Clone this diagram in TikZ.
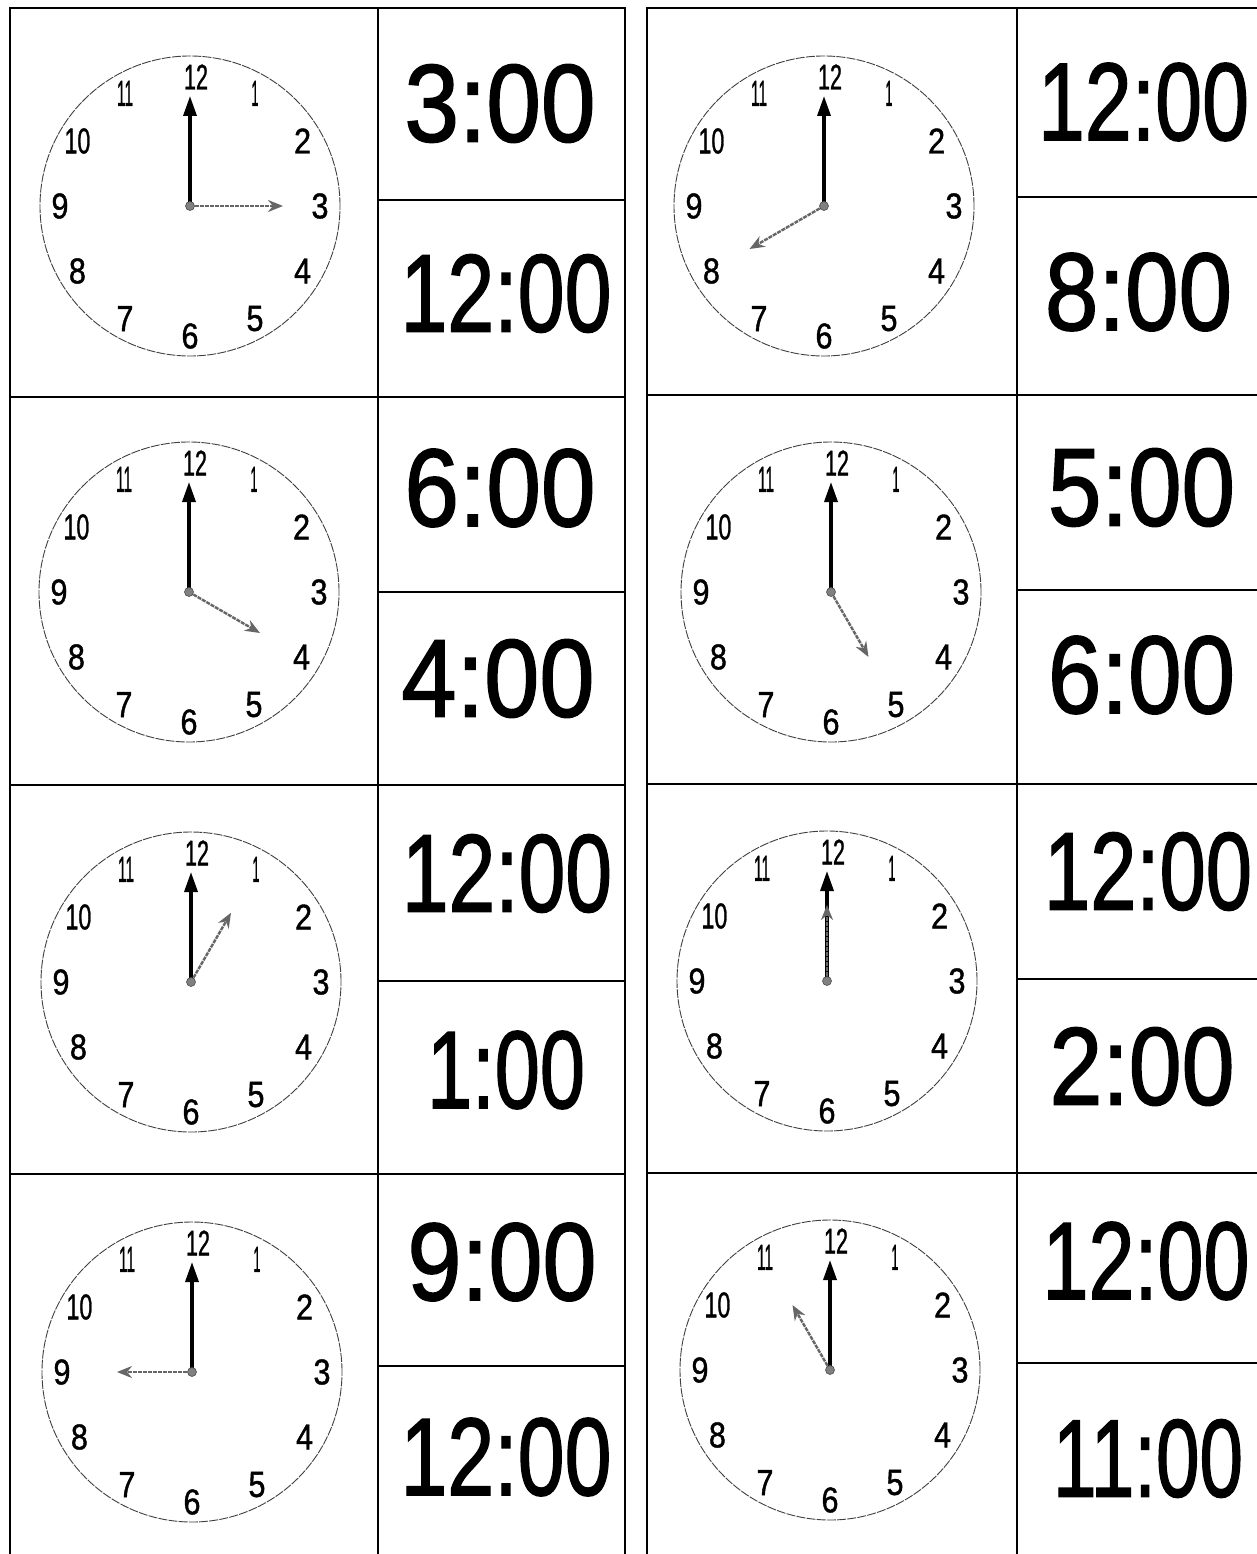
\documentclass[tikz,border=0pt]{standalone}
\usepackage{fontspec}
\setmainfont{Liberation Sans}
\newfontfamily\timefont{Liberation Sans}[FakeBold=1.5]
\newfontfamily\numfont{Liberation Sans}[FakeBold=1.2]
\usepackage{graphicx}
\usetikzlibrary{arrows.meta}

\newcommand{\cnum}[2]{\resizebox{#1pt}{25pt}{\numfont #2}}
\newcommand{\bigtime}[2]{\resizebox{#1pt}{77pt}{\timefont #2}}

\tikzset{
  grid/.style={line width=2.6pt, line cap=rect},
  face/.style={draw=black!75, line width=0.9pt, dash pattern=on 9pt off 1.2pt},
  numlbl/.style={inner sep=0pt, anchor=center},
  timelbl/.style={inner sep=0pt, anchor=center},
  minhand/.style={line width=3.4pt, -{Triangle[length=20pt,width=13pt]}},
  hourhand/.style={draw=black!60, line width=2.4pt, dash pattern=on 4pt off 1pt,
    -{Stealth[length=15pt,width=12pt,fill=black!60]}},
  hub/.style={circle, fill=black!50, draw=black!70, line width=0.6pt, inner sep=0pt, minimum size=9pt}
}

% #1 name, #2 cx, #3 cy, #4 hour, #5 hour-hand length
\newcommand{\drawclock}[5]{%
  \begin{scope}[shift={(#2,#3)}]
    \node[circle, face, minimum size=300pt, inner sep=0pt] (#1face) at (0,0) {};
    \coordinate (#1c) at (0,0);
    \coordinate (#1m) at (0,-110);
    \coordinate (#1h) at ({30*#4-90}:#5);
    \foreach \k/\w in {1/7,2/17,3/17,4/17,5/17,6/17,7/17,8/17,9/17,10/26,11/16}{
      \node[numlbl] (#1n\k) at ({30*\k-90}:130) {\cnum{\w}{\k}};
    }
    \node[numlbl] (#1n12) at (6,-129) {\cnum{24}{12}};
    \draw[minhand] (#1c) -- (#1m);
    \draw[hourhand] (#1c) -- (#1h);
    \node[hub] (#1hub) at (#1c) {};
  \end{scope}%
}

\begin{document}
\begin{tikzpicture}[x=1pt, y=-1pt]
  \useasboundingbox[fill=white] (0,0) rectangle (1257,1554);

  % ---------- left panel grid ----------
  \coordinate (LtopL) at (10,8);
  \coordinate (LbotL) at (10,1554);
  \coordinate (LtopM) at (378,8);
  \coordinate (LbotM) at (378,1554);
  \coordinate (LtopR) at (625,8);
  \coordinate (LbotR) at (625,1554);
  \draw[grid] (LtopL) -- (LbotL);
  \draw[grid] (LtopM) -- (LbotM);
  \draw[grid] (LtopR) -- (LbotR);
  \foreach \y in {8,397,785,1174}{
    \draw[grid] (10,\y) -- (625,\y);
  }
  \foreach \y in {200,592,981,1366}{
    \draw[grid] (378,\y) -- (625,\y);
  }

  % ---------- right panel grid ----------
  \coordinate (RtopL) at (647,8);
  \coordinate (RbotL) at (647,1554);
  \coordinate (RtopM) at (1017,8);
  \coordinate (RbotM) at (1017,1554);
  \draw[grid] (RtopL) -- (RbotL);
  \draw[grid] (RtopM) -- (RbotM);
  \foreach \y in {8,395,784,1173}{
    \draw[grid] (647,\y) -- (1257,\y);
  }
  \foreach \y in {197,590,979,1363}{
    \draw[grid] (1017,\y) -- (1257,\y);
  }

  % ---------- clocks ----------
  \drawclock{L1}{190}{206}{3}{93}
  \drawclock{L2}{189}{592}{4}{82}
  \drawclock{L3}{191}{982}{1}{80}
  \drawclock{L4}{192}{1372}{9}{75}
  \drawclock{R1}{824}{206}{8}{86}
  \drawclock{R2}{831}{592}{5}{75}
  \drawclock{R3}{827}{981}{12}{76}
  \drawclock{R4}{830}{1370}{11}{75}

  % ---------- times ----------
  \node[timelbl] (tL1a) at (500,103.5) {\bigtime{191}{3:00}};
  \node[timelbl] (tL1b) at (506,293.5) {\bigtime{211}{12:00}};
  \node[timelbl] (tL2a) at (500,488) {\bigtime{191}{6:00}};
  \node[timelbl] (tL2b) at (498,678.5) {\bigtime{193}{4:00}};
  \node[timelbl] (tL3a) at (507,873.5) {\bigtime{210}{12:00}};
  \node[timelbl] (tL3b) at (506,1070) {\bigtime{158}{1:00}};
  \node[timelbl] (tL4a) at (502,1262) {\bigtime{189}{9:00}};
  \node[timelbl] (tL4b) at (506,1457) {\bigtime{211}{12:00}};

  \node[timelbl] (tR1a) at (1143.5,102) {\bigtime{211}{12:00}};
  \node[timelbl] (tR1b) at (1138.5,292) {\bigtime{187}{8:00}};
  \node[timelbl] (tR2a) at (1141.5,487.5) {\bigtime{187}{5:00}};
  \node[timelbl] (tR2b) at (1141.5,675) {\bigtime{187}{6:00}};
  \node[timelbl] (tR3a) at (1148,871.5) {\bigtime{208}{12:00}};
  \node[timelbl] (tR3b) at (1142,1066.5) {\bigtime{185}{2:00}};
  \node[timelbl] (tR4a) at (1146,1261) {\bigtime{207}{12:00}};
  \node[timelbl] (tR4b) at (1148,1458.5) {\bigtime{190}{11:00}};
\end{tikzpicture}
\end{document}
